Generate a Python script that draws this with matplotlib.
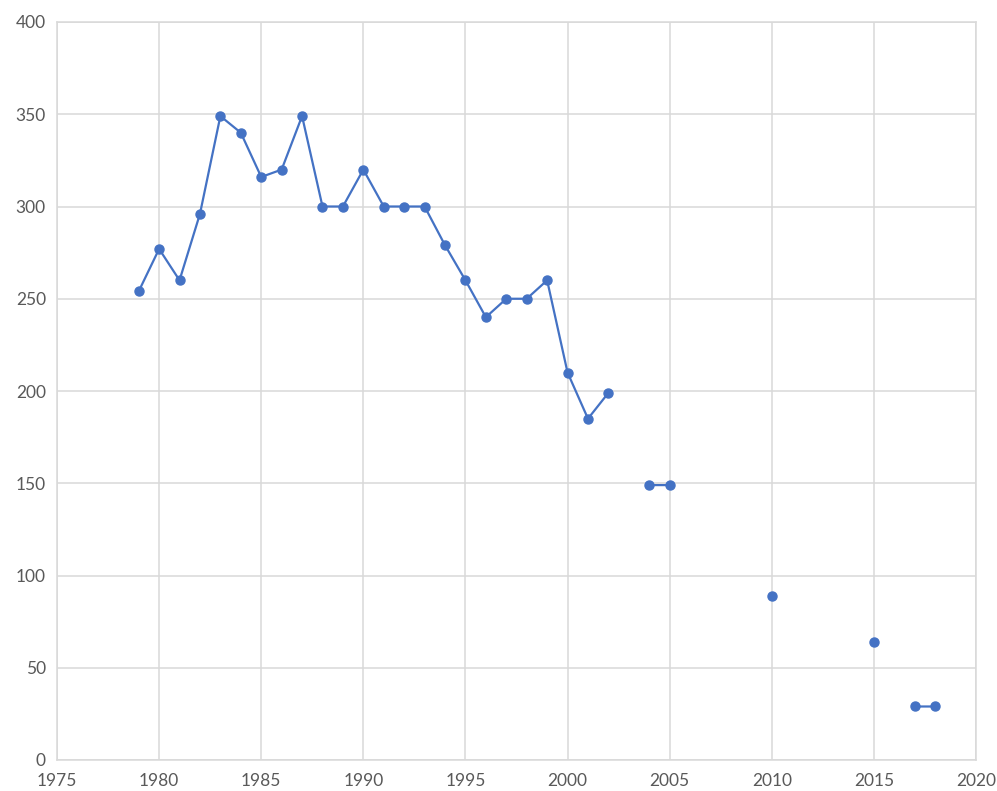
import numpy as np
import matplotlib
matplotlib.use("Agg")
import matplotlib.pyplot as plt

# yearly values, gaps as NaN so the line breaks
years = list(range(1979, 2019))
values = [254, 277, 260, 296, 349, 340, 316, 320, 349, 300,
          300, 320, 300, 300, 300, 279, 260, 240, 250, 250,
          260, 210, 185, 199, np.nan, 149, 149, np.nan, np.nan, np.nan,
          np.nan, 89, np.nan, np.nan, np.nan, np.nan, 64, np.nan, 29, 29]

x_ticks = [1975, 1980, 1985, 1990, 1995, 2000, 2005, 2010, 2015, 2020]
y_ticks = [0, 50, 100, 150, 200, 250, 300, 350, 400]

plt.rcParams['font.family'] = ['Lato', 'DejaVu Sans']

fig = plt.figure(figsize=(9.97, 7.91), dpi=100)
ax = fig.add_axes([57 / 997, 31 / 791, 919 / 997, 738 / 791])

ax.plot(years, values, color='#4472C4', linewidth=1.6,
        marker='o', markersize=6.5, zorder=3)

ax.set_xlim(1975, 2020)
ax.set_ylim(0, 400)
ax.set_xticks(x_ticks)
ax.set_yticks(y_ticks)

ax.grid(True, color='#D9D9D9', linewidth=1.1)
ax.set_axisbelow(True)
for side in ax.spines.values():
    side.set_color('#D9D9D9')
    side.set_linewidth(1.1)

ax.tick_params(length=0, labelsize=12.5, labelcolor='#595959', pad=8)
ax.tick_params(axis='x', pad=9)

fig.savefig('out.png', dpi=100)
